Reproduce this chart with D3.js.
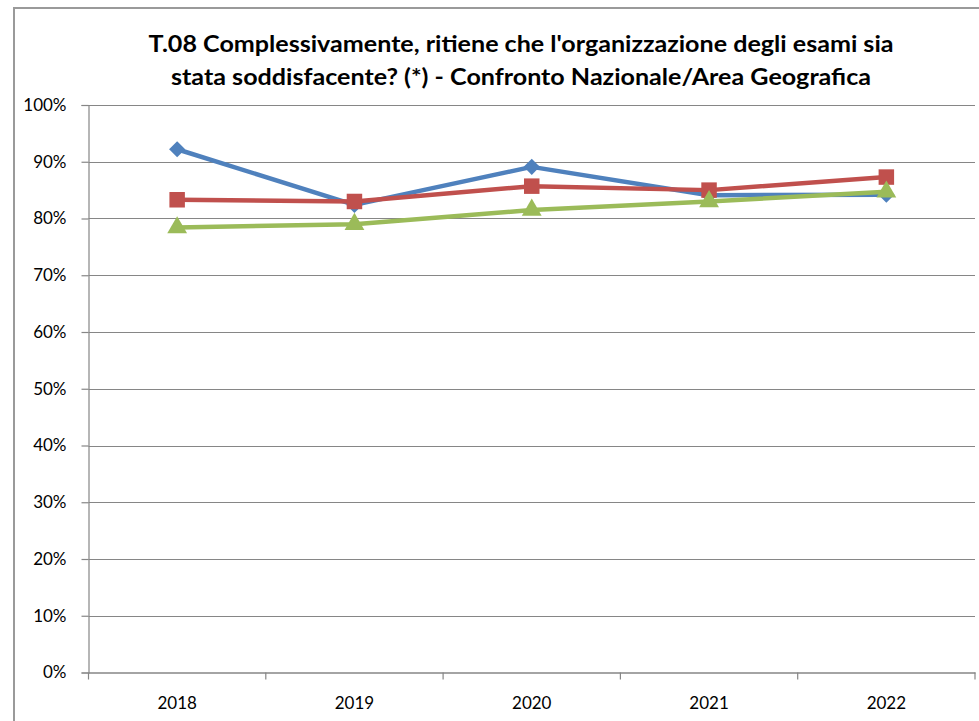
<!DOCTYPE html>
<html>
<head>
<meta charset="utf-8">
<script src="https://cdn.jsdelivr.net/npm/d3@7"></script>
<style>
  body { margin: 0; background: #fff; }
  svg { display: block; }
</style>
</head>
<body>
<div id="chart"></div>
<script>
// Data
const years = ["2018", "2019", "2020", "2021", "2022"];
const serie1 = [0.922, 0.824, 0.891, 0.841, 0.842];   // blue, diamonds
const serie2 = [0.833, 0.830, 0.857, 0.850, 0.873];   // red, squares
const serie3 = [0.784, 0.790, 0.815, 0.830, 0.847];   // green, triangles
const yTicks = [0, 0.1, 0.2, 0.3, 0.4, 0.5, 0.6, 0.7, 0.8, 0.9, 1];
const titleLines = [
  "T.08 Complessivamente, ritiene che l'organizzazione degli esami sia",
  "stata soddisfacente? (*) - Confronto Nazionale/Area Geografica"
];

const width = 979, height = 721;
const margin = {top: 105, bottom: 48.5, left: 88.5, right: 4};

const svg = d3.select("#chart")
  .append("svg")
  .attr("width", width)
  .attr("height", height);

// outer chart frame (only left and top edges are visible)
svg.append("path")
  .attr("d", `M14,${height} L14,8 L${width},8`)
  .attr("fill", "none")
  .attr("stroke", "#9a9a9a")
  .attr("stroke-width", 2);

// title
svg.selectAll(".title")
  .data(titleLines)
  .enter()
  .append("text")
  .attr("class", "title")
  .attr("x", 521)
  .attr("y", (d, i) => 52 + i * 33)
  .attr("text-anchor", "middle")
  .attr("textLength", (d, i) => i === 0 ? 745 : 700)
  .attr("lengthAdjust", "spacingAndGlyphs")
  .style("font-family", "Lato, 'Open Sans', sans-serif")
  .style("font-weight", "bold")
  .style("font-size", "22px")
  .style("fill", "#000")
  .text(d => d);

const x = d3.scaleBand()
  .domain(years)
  .range([margin.left, width - margin.right]);

const y = d3.scaleLinear()
  .domain([0, 1])
  .range([height - margin.bottom, margin.top]);

// gridlines
svg.append("g")
  .selectAll("line")
  .data(yTicks.slice(1))
  .enter()
  .append("line")
  .attr("x1", margin.left)
  .attr("x2", width - margin.right)
  .attr("y1", d => Math.round(y(d)) + 0.5)
  .attr("y2", d => Math.round(y(d)) + 0.5)
  .attr("stroke", "#868686")
  .attr("stroke-width", 1.2);

// y axis
const yAxis = svg.append("g")
  .attr("transform", `translate(${margin.left},0)`)
  .call(d3.axisLeft(y).tickValues(yTicks).tickFormat(d3.format(".0%")).tickSize(7).tickPadding(15));
yAxis.selectAll("line, path").attr("stroke", "#868686").attr("stroke-width", 1.2);
yAxis.selectAll("text")
  .style("font-family", "Lato, 'Open Sans', sans-serif")
  .style("font-size", "17px")
  .style("fill", "#000");

// x axis, ticks sit on the category boundaries
const xAxis = svg.append("g")
  .attr("transform", `translate(0,${height - margin.bottom})`)
  .call(d3.axisBottom(x).tickSize(0).tickPadding(24));
xAxis.select(".domain").attr("stroke", "#868686").attr("stroke-width", 1.5);
xAxis.selectAll("text")
  .style("font-family", "Lato, 'Open Sans', sans-serif")
  .style("font-size", "17px")
  .style("fill", "#000");
xAxis.selectAll(".bound")
  .data(years.concat(["end"]))
  .enter()
  .append("line")
  .attr("class", "bound")
  .attr("x1", (d, i) => i < years.length ? x(d) : x(years[years.length - 1]) + x.bandwidth())
  .attr("x2", (d, i) => i < years.length ? x(d) : x(years[years.length - 1]) + x.bandwidth())
  .attr("y1", 0)
  .attr("y2", 7)
  .attr("stroke", "#868686")
  .attr("stroke-width", 1.2);

// diamond = square turned 45 degrees
const series = [
  {values: serie1, color: "#4F81BD", symbol: d3.symbolSquare, size: 130, rotate: 45},
  {values: serie2, color: "#C0504D", symbol: d3.symbolSquare, size: 240, rotate: 0},
  {values: serie3, color: "#9BBB59", symbol: d3.symbolTriangle, size: 170, rotate: 0}
];

const line = d3.line()
  .x((d, i) => x(years[i]) + x.bandwidth() / 2)
  .y(d => y(d));

series.forEach(s => {
  const g = svg.append("g");
  g.append("path")
    .datum(s.values)
    .attr("d", line)
    .attr("fill", "none")
    .attr("stroke", s.color)
    .attr("stroke-width", 4.5)
    .attr("stroke-linejoin", "round");

  g.selectAll("path.marker")
    .data(s.values)
    .enter()
    .append("path")
    .attr("class", "marker")
    .attr("transform", (d, i) => `translate(${x(years[i]) + x.bandwidth() / 2},${y(d)}) rotate(${s.rotate})`)
    .attr("d", d3.symbol().type(s.symbol).size(s.size))
    .attr("fill", s.color);
});
</script>
</body>
</html>
